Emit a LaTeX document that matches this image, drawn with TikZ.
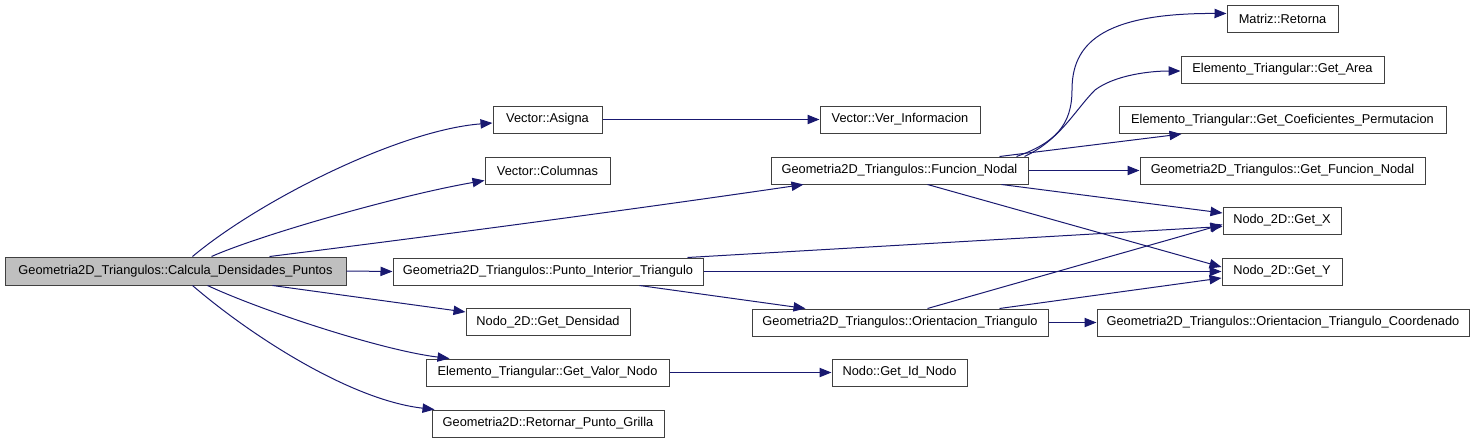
\documentclass[tikz,border=0pt]{standalone}
\usepackage{fontspec}
\setmainfont{Liberation Sans}
\usetikzlibrary{arrows.meta,calc}
\definecolor{edgec}{HTML}{191970}
\definecolor{boxc}{HTML}{404040}
\definecolor{mainfill}{HTML}{BFBFBF}
\tikzset{
  fn/.style={draw=boxc, line width=0.75pt, fill=white, inner sep=0pt, minimum height=27*0.75pt,
     font=\fontsize{9.6pt}{11.5pt}\selectfont},
  call/.style={draw=edgec, line width=0.75pt, -{Triangle[length=9pt,width=7pt]}},
}
\begin{document}
\begin{tikzpicture}[x=0.75pt,y=-0.75pt]
\useasboundingbox (0,0) rectangle (1475,443);
% nodes
\node[fn, fill=mainfill, minimum width=341*0.75pt, minimum height=28*0.75pt] (main) at (175.5,271) {Geometria2D\_Triangulos::Calcula\_Densidades\_Puntos};
\node[fn, minimum width=109*0.75pt] (asigna) at (547.5,119.5) {Vector::Asigna};
\node[fn, minimum width=125*0.75pt] (columnas) at (547.5,170.5) {Vector::Columnas};
\node[fn, minimum width=310*0.75pt] (pi) at (548,271.5) {Geometria2D\_Triangulos::Punto\_Interior\_Triangulo};
\node[fn, minimum width=164*0.75pt] (dens) at (548,322) {Nodo\_2D::Get\_Densidad};
\node[fn, minimum width=243*0.75pt] (valor) at (547.5,372.5) {Elemento\_Triangular::Get\_Valor\_Nodo};
\node[fn, minimum width=232*0.75pt] (grilla) at (548,423.5) {Geometria2D::Retornar\_Punto\_Grilla};
\node[fn, minimum width=257*0.75pt] (fnod) at (899.5,170.5) {Geometria2D\_Triangulos::Funcion\_Nodal};
\node[fn, minimum width=296*0.75pt] (orient) at (900,322.5) {Geometria2D\_Triangulos::Orientacion\_Triangulo};
\node[fn, minimum width=160*0.75pt] (verinfo) at (900,119.5) {Vector::Ver\_Informacion};
\node[fn, minimum width=135*0.75pt] (idnodo) at (899.5,372.5) {Nodo::Get\_Id\_Nodo};
\node[fn, minimum width=111*0.75pt] (retorna) at (1282.5,18.5) {Matriz::Retorna};
\node[fn, minimum width=203*0.75pt] (area) at (1282.5,69.5) {Elemento\_Triangular::Get\_Area};
\node[fn, minimum width=327*0.75pt] (coef) at (1282.5,120) {Elemento\_Triangular::Get\_Coeficientes\_Permutacion};
\node[fn, minimum width=285*0.75pt] (gfn) at (1282.5,170.5) {Geometria2D\_Triangulos::Get\_Funcion\_Nodal};
\node[fn, minimum width=118*0.75pt] (getx) at (1282,220.5) {Nodo\_2D::Get\_X};
\node[fn, minimum width=120*0.75pt] (gety) at (1282,271.5) {Nodo\_2D::Get\_Y};
\node[fn, minimum width=372*0.75pt] (otc) at (1283,322.5) {Geometria2D\_Triangulos::Orientacion\_Triangulo\_Coordenado};
% edges from main
\draw[call] ($(main.north west)+(188,0)$) .. controls (260,200) and (400,130) .. ($(asigna.west)+(0,3.5)$);
\draw[call] ($(main.north west)+(207,0)$) .. controls (260,235) and (400,195) .. ($(columnas.west)+(0,10)$);
\draw[call] ($(main.north west)+(265,0)$) .. controls (450,234) and (650,207) .. ($(fnod.south west)+(33,0)$);
\draw[call] (main.east) -- (pi.west);
\draw[call] ($(main.south west)+(268,0)$) -- ($(dens.west)+(0,-10)$);
\draw[call] ($(main.south west)+(203,0)$) .. controls (260,310) and (380,350) .. ($(valor.north west)+(24,0)$);
\draw[call] ($(main.south west)+(188,0)$) .. controls (250,335) and (350,400) .. ($(grilla.north west)+(3,0)$);
% second level
\draw[call] (asigna.east) -- (verinfo.west);
\draw[call] (valor.east) -- (idnodo.west);
\draw[call] ($(pi.north west)+(295,0)$) -- ($(getx.west)+(0,6)$);
\draw[call] (pi.east) -- (gety.west);
\draw[call] ($(pi.south west)+(247,0)$) -- ($(orient.north west)+(54,0)$);
% from Funcion_Nodal
\draw[call] ($(fnod.north west)+(246,0)$) .. controls (1055,143) and (1072,125) .. (1072,90)
   .. controls (1072,45) and (1100,13) .. ($(retorna.west)+(0,-5)$);
\draw[call] ($(fnod.north west)+(254,0)$) .. controls (1060,140) and (1075,110) .. (1095,90)
   .. controls (1115,75) and (1150,71) .. ($(area.west)+(0,1.5)$);
\draw[call] ($(fnod.north west)+(229,0)$) -- ($(coef.south west)+(63,0)$);
\draw[call] (fnod.east) -- (gfn.west);
\draw[call] ($(fnod.south west)+(231,0)$) -- ($(getx.west)+(0,-7.5)$);
\draw[call] ($(fnod.south west)+(157,0)$) -- ($(gety.west)+(0,-4.5)$);
% from Orientacion_Triangulo
\draw[call] ($(orient.north west)+(176,0)$) -- ($(getx.west)+(0,4)$);
\draw[call] ($(orient.north west)+(248,0)$) -- ($(gety.west)+(0,6.5)$);
\draw[call] (orient.east) -- (otc.west);
\end{tikzpicture}
\end{document}
